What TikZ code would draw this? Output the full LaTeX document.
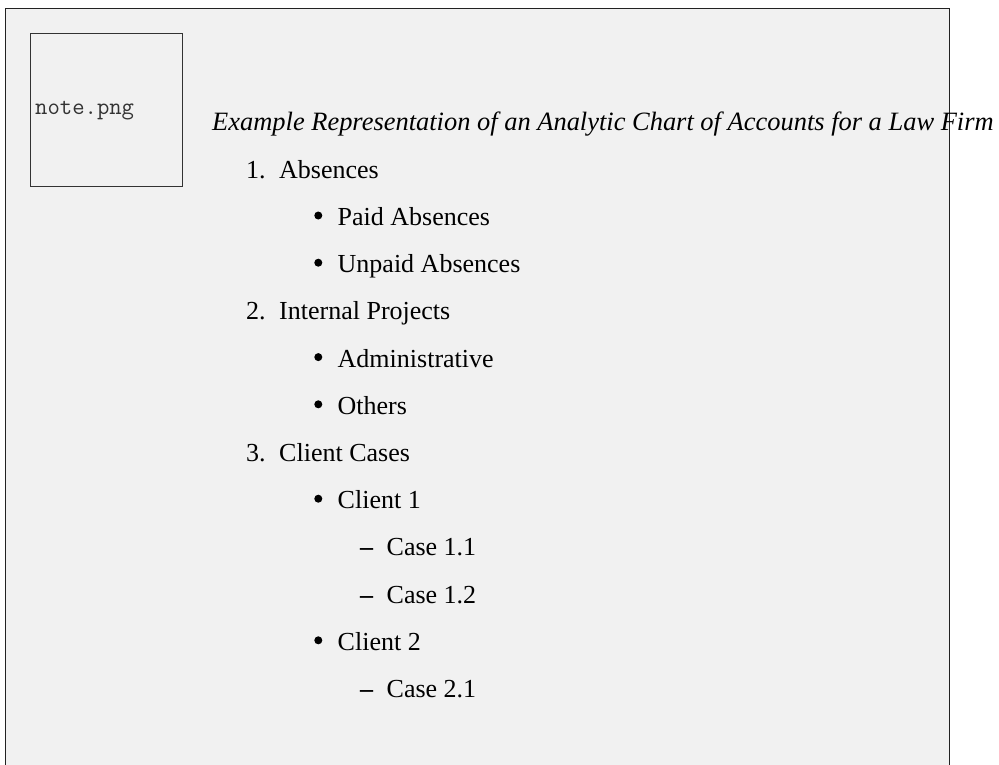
\documentclass[tikz,border=0pt]{standalone}
\usepackage{fontspec}
\setmainfont{Liberation Serif}
\definecolor{panelbg}{HTML}{F1F1F1}
\definecolor{framecol}{HTML}{222222}
\definecolor{notecol}{HTML}{333333}
\begin{document}
\begin{tikzpicture}[x=1pt,y=-1pt,
  txt/.style={inner sep=0pt,anchor=base west,font=\fontsize{26}{30}\selectfont},
  bul/.style={circle,fill=black,inner sep=0pt,minimum size=8pt},
  dsh/.style={inner sep=0pt,anchor=base,font=\fontsize{26}{30}\selectfont\bfseries},
  ttl/.style={inner sep=0pt,anchor=base west,font=\fontsize{26.45}{30}\selectfont\itshape},
  notebox/.style={draw=notecol,line width=1pt,fill=panelbg,minimum width=152.5pt,minimum height=153pt,inner sep=0pt,anchor=north west},
  notetxt/.style={inner sep=0pt,anchor=base west,text=notecol,font=\fontsize{24}{28}\ttfamily}]
\useasboundingbox (0,0) rectangle (999,764);
\fill[white] (0,0) rectangle (999,764);
\draw[framecol,line width=1.6pt,fill=panelbg] (5.5,8.5) rectangle (949.5,800);
\node[notebox] (note) at (29.5,33) {};
\node[notetxt] (notelabel) at (35,114) {note.png};
\node[ttl] (title) at (212,130) {Example Representation of an Analytic Chart of Accounts for a Law Firm};
\node[txt] (n1) at (246,178.3) {1.};
\node[txt] (i1) at (279,178.3) {Absences};
\node[bul] (b11) at (318.3,215.5) {};
\node[txt] (i11) at (337.5,225.5) {Paid Absences};
\node[bul] (b12) at (318.3,262.7) {};
\node[txt] (i12) at (337.5,272.7) {Unpaid Absences};
\node[txt] (n2) at (246,319.9) {2.};
\node[txt] (i2) at (279,319.9) {Internal Projects};
\node[bul] (b21) at (318.3,357.1) {};
\node[txt] (i21) at (337.5,367.1) {Administrative};
\node[bul] (b22) at (318.3,404.3) {};
\node[txt] (i22) at (337.5,414.3) {Others};
\node[txt] (n3) at (246,461.5) {3.};
\node[txt] (i3) at (279,461.5) {Client Cases};
\node[bul] (b31) at (318.3,498.7) {};
\node[txt] (i31) at (337.5,508.7) {Client 1};
\node[dsh] (d311) at (366.5,555.9) {–};
\node[txt] (i311) at (386.5,555.9) {Case 1.1};
\node[dsh] (d312) at (366.5,603.1) {–};
\node[txt] (i312) at (386.5,603.1) {Case 1.2};
\node[bul] (b32) at (318.3,640.3) {};
\node[txt] (i32) at (337.5,650.3) {Client 2};
\node[dsh] (d321) at (366.5,697.5) {–};
\node[txt] (i321) at (386.5,697.5) {Case 2.1};
\end{tikzpicture}
\end{document}
